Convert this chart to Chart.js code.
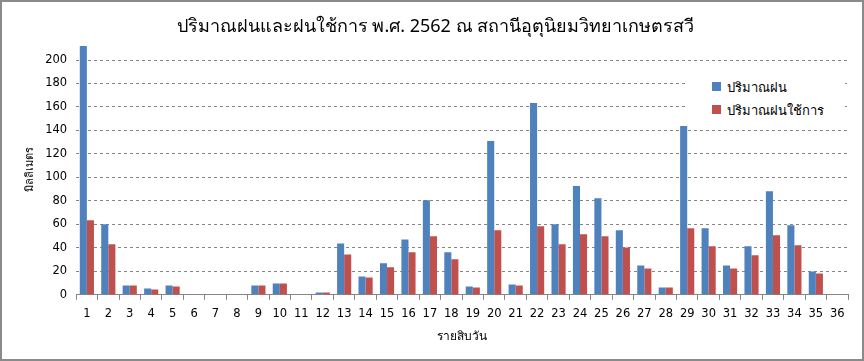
<!DOCTYPE html>
<html>
<head>
<meta charset="utf-8">
<script src="https://cdn.jsdelivr.net/npm/chart.js@4"></script>
<style>
    body { margin: 0; background: #fff; }
    .frame { position: relative; width: 864px; height: 361px; box-sizing: border-box; border: 2px solid #8a8a8a; background: #fff; }
    .legend { position: absolute; left: 683px; top: 74px; width: 160px; height: 50px; background: #fff;
        font-family: 'Noto Sans', 'DejaVu Sans', sans-serif; font-size: 13px; color: #000; }
    .legend div { position: absolute; left: 42px; white-space: nowrap; }
    .legend span { position: absolute; left: -15px; top: 5px; width: 9px; height: 9px; }
</style>
</head>
<body>
<div class="frame">
    <canvas id="rainchart" width="860" height="357"></canvas>
    <div class="legend">
        <div style="top:1px"><span style="background:#4F81BD"></span>ปริมาณฝน</div>
        <div style="top:24px"><span style="background:#C0504D"></span>ปริมาณฝนใช้การ</div>
    </div>
</div>
<script>
const periods = ['1','2','3','4','5','6','7','8','9','10','11','12','13','14','15','16','17','18',
    '19','20','21','22','23','24','25','26','27','28','29','30','31','32','33','34','35','36'];
const rain = [212, 60, 8, 5.4, 8, 0, 0, 0, 8, 9.7, 0, 2, 43.8, 15.6, 26.8, 47.2, 80.6, 36.2,
    7.1, 131, 8.8, 163.5, 60, 92.6, 82.3, 55, 25, 6.3, 143.8, 56.7, 25, 41.3, 88.3, 59.2, 19.9, 0];
const effectiveRain = [63.5, 43, 8, 4.5, 7, 0, 0, 0, 8, 9.7, 0, 2, 34.4, 14.8, 23.4, 36.2, 49.9, 30.2,
    6.3, 55, 8, 58.4, 43, 51.6, 49.9, 40.4, 22.5, 6.3, 56.7, 41.3, 22.5, 33.6, 50.7, 42.2, 18.2, 0];
const yTicks = [0, 20, 40, 60, 80, 100, 120, 140, 160, 180, 200];

const thai = "'Noto Sans', 'DejaVu Sans', sans-serif";
const num = "'DejaVu Sans', sans-serif";

const ctx = document.getElementById('rainchart');
new Chart(ctx, {
    type: 'bar',
    data: {
        labels: periods,
        datasets: [{
            label: 'ปริมาณฝน',
            data: rain,
            backgroundColor: '#4F81BD',
            categoryPercentage: 0.66,
            barPercentage: 1
        },
        {
            label: 'ปริมาณฝนใช้การ',
            data: effectiveRain,
            backgroundColor: '#C0504D',
            categoryPercentage: 0.66,
            barPercentage: 1
        }]
    },
    options: {
        responsive: false,
        animation: false,
        layout: {
            padding: { left: 21, right: 14, top: 4, bottom: 15 }
        },
        plugins: {
            legend: { display: false },
            tooltip: { enabled: false },
            title: {
                display: true,
                text: 'ปริมาณฝนและฝนใช้การ พ.ศ. 2562 ณ สถานีอุตุนิยมวิทยาเกษตรสวี',
                color: '#000',
                font: { family: thai, size: 18, weight: 'normal' },
                padding: { top: 10, bottom: 6 }
            }
        },
        scales: {
            x: {
                grid: {
                    drawOnChartArea: false,
                    color: '#868686',
                    tickLength: 5,
                    offset: true
                },
                border: { display: true, color: '#868686', width: 1 },
                ticks: {
                    color: '#000',
                    font: { family: num, size: 11.5 },
                    padding: 7,
                    maxRotation: 0,
                    autoSkip: false
                },
                title: {
                    display: true,
                    text: 'รายสิบวัน',
                    color: '#000',
                    font: { family: thai, size: 12 },
                    padding: { top: 2, bottom: 0 }
                }
            },
            y: {
                min: 0,
                max: 214,
                afterBuildTicks: axis => {
                    axis.ticks = yTicks.map(v => ({ value: v }));
                },
                grid: {
                    color: '#868686',
                    drawTicks: false
                },
                border: { display: false, dash: [3, 3] },
                ticks: {
                    color: '#000',
                    font: { family: num, size: 11.5 },
                    padding: 9
                },
                title: {
                    display: true,
                    text: 'มิลลิเมตร',
                    color: '#000',
                    font: { family: thai, size: 11 },
                    padding: { top: 0, bottom: 0 }
                }
            }
        }
    }
});
</script>
</body>
</html>
